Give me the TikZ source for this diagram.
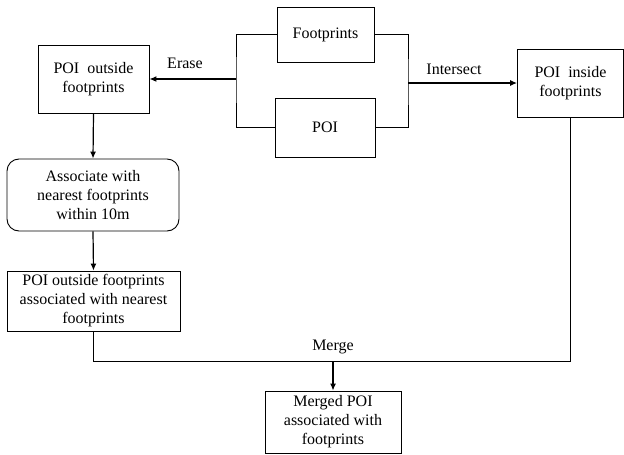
\documentclass[tikz,border=0pt]{standalone}
\usepackage{fontspec}
\setmainfont{Liberation Serif}
\usetikzlibrary{arrows.meta}
\begin{document}
\begin{tikzpicture}[x=1pt,y=-1pt,
  every node/.style={font=\fontsize{16}{19}\selectfont, align=center, inner sep=0pt},
  box/.style={draw, line width=0.9pt, rectangle},
  rbox/.style={draw, line width=0.9pt, rectangle, rounded corners=12pt},
  conn/.style={line width=0.9pt},
  arr/.style={line width=1.2pt, -{Latex[length=7pt,width=6pt]}},
  lbl/.style={font=\fontsize{16}{19}\selectfont}]
\useasboundingbox (0,0) rectangle (624,455);
\node[box, minimum width=97pt, minimum height=55pt] (fp) at (325.5,34.5) {Footprints};
\node[box, minimum width=100pt, minimum height=59pt] (poi) at (325,127.5) {POI};
\node[box, minimum width=111pt, minimum height=68pt] (out) at (93.5,79) {POI\ \ outside\\footprints};
\node[box, minimum width=106pt, minimum height=68pt] (in) at (570.5,83) {POI\ \ inside\\footprints};
\node[rbox, minimum width=172pt, minimum height=72pt] (assoc) at (93,195) {Associate with\\nearest footprints\\within 10m};
\node[box, minimum width=173pt, minimum height=60pt] (oa) at (93.5,301) {POI outside footprints\\associated with nearest\\footprints};
\node[box, minimum width=136pt, minimum height=62pt] (mg) at (333,422) {Merged POI\\associated with\\footprints};
\coordinate (lb) at (236,79);
\coordinate (rb) at (408,83);
\coordinate (m) at (333,361);
\draw[conn] (fp.west) -| (lb) |- (poi.west);
\draw[conn] (fp.east) -| (rb) |- (poi.east);
\draw[arr] (lb) -- (out.east);
\draw[arr] (rb) -- (in.west);
\draw[arr] (out.south) -- (assoc.north);
\draw[arr] (assoc.south) -- (oa.north);
\draw[conn] (oa.south) |- (m);
\draw[conn] (in.south) |- (m);
\draw[arr] (m) -- (mg.north);
\node[lbl] (le) at (185,63) {Erase};
\node[lbl] (li) at (454,69) {Intersect};
\node[lbl] (lm) at (333,347) {Merge};
\end{tikzpicture}
\end{document}
